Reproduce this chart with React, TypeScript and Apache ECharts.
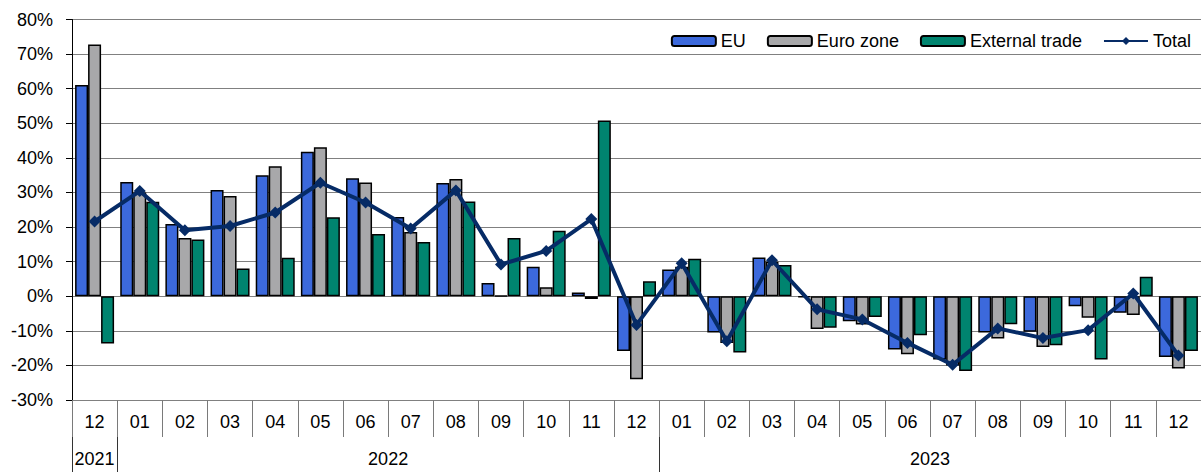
import React, { useEffect, useRef } from "react";
import * as echarts from "echarts";

const months = ["12", "01", "02", "03", "04", "05", "06", "07", "08", "09", "10", "11", "12", "01", "02", "03", "04", "05", "06", "07", "08", "09", "10", "11", "12"];
const yearLabels = ["2021", "2022", "2023"];
const yearLabelPos = [0.5, 7, 19];
const yearSeparators = [0, 1, 13, 25];

const eu = [61.1, 33.0, 20.9, 30.7, 35.0, 41.8, 34.1, 22.9, 32.7, 3.8, 8.5, 1.1, -15.8, 7.7, -10.5, 11.2, -0.3, -7.2, -15.4, -18.3, -10.5, -10.3, -2.9, -4.8, -17.6];
const euroZone = [72.8, 30.0, 16.8, 29.0, 37.6, 43.1, 32.9, 18.6, 33.9, 0.2, 2.6, -0.8, -24.0, 8.5, -13.5, 10.0, -9.5, -8.2, -16.8, -20.0, -12.2, -14.7, -6.2, -5.4, -20.9];
const external = [-13.7, 27.3, 16.4, 8.0, 11.1, 22.8, 18.0, 15.7, 27.4, 16.8, 18.9, 50.8, 4.3, 10.8, -16.3, 9.0, -9.1, -6.0, -11.3, -21.6, -8.1, -14.2, -18.3, 5.6, -15.8];
const total = [21.6, 30.4, 19.1, 20.3, 24.2, 32.8, 27.1, 19.6, 30.6, 9.2, 13.1, 22.3, -8.3, 9.5, -13.0, 10.4, -3.8, -6.7, -13.5, -19.8, -9.3, -12.1, -9.8, 0.8, -17.1];

const FONT = "'Liberation Sans', Arial, sans-serif";

export default function App() {
  const ref = useRef<HTMLDivElement>(null);
  useEffect(() => {
    if (!ref.current) return;
    const chart = echarts.init(ref.current, undefined, { renderer: "svg" });
    const barStyle = (color: string) => ({
      color,
      borderColor: "#000",
      borderWidth: 1.5,
    });
    chart.setOption({
      animation: false,
      textStyle: { fontFamily: FONT, color: "#000" },
      legend: {
        right: 5,
        top: 27,
        itemWidth: 44,
        itemHeight: 10,
        itemGap: 21,
        textStyle: { fontFamily: FONT, fontSize: 18, color: "#000" },
        data: ["EU", "Euro zone", "External trade", "Total"],
      },
      grid: { left: 72, top: 19.5, right: -4, bottom: 72, containLabel: false },
      xAxis: [
        {
          type: "category",
          data: months,
          position: "bottom",
          axisLine: { onZero: false, lineStyle: { color: "#808080", width: 1 } },
          axisTick: { show: true, interval: 0, length: 37, lineStyle: { color: "#7a7a7a" } },
          axisLabel: { interval: 0, fontSize: 18, color: "#000", margin: 13, fontFamily: FONT },
          splitLine: { show: false },
        },
        {
          type: "value",
          min: 0,
          max: 25,
          position: "bottom",
          offset: 37,
          axisLine: { show: false, onZero: false },
          splitLine: { show: false },
          axisTick: {
            show: true,
            length: 35,
            customValues: yearSeparators,
            lineStyle: { color: "#333" },
          },
          axisLabel: {
            show: true,
            customValues: yearLabelPos,
            fontSize: 18,
            color: "#000",
            margin: 13,
            fontFamily: FONT,
            formatter: (v: number) => {
              const i = yearLabelPos.indexOf(v);
              return i >= 0 ? yearLabels[i] : "";
            },
          },
        },
      ],
      yAxis: {
        type: "value",
        min: -30,
        max: 80,
        interval: 10,
        axisLine: { show: true, lineStyle: { color: "#000", width: 1 } },
        axisTick: { show: true, length: 6, lineStyle: { color: "#000" } },
        axisLabel: { formatter: "{value}%", fontSize: 18, color: "#000", margin: 19, fontFamily: FONT },
        splitLine: { show: true, lineStyle: { color: "#808080", width: 1.2 } },
      },
      series: [
        { name: "EU", type: "bar", data: eu, barWidth: 13, barGap: "0%", itemStyle: barStyle("#3C69DC") },
        { name: "Euro zone", type: "bar", data: euroZone, barWidth: 13, barGap: "0%", itemStyle: barStyle("#A8A8AA") },
        { name: "External trade", type: "bar", data: external, barWidth: 13, barGap: "0%", itemStyle: barStyle("#00846F") },
        {
          name: "Total",
          type: "line",
          data: total,
          symbol: "diamond",
          symbolSize: 12,
          z: 5,
          lineStyle: { color: "#062B66", width: 4 },
          itemStyle: { color: "#062B66" },
        },
      ],
    });
    return () => chart.dispose();
  }, []);
  return (
    <div
      ref={ref}
      style={{ position: "fixed", left: 0, top: 0, width: 1201, height: 472, background: "#fff" }}
    />
  );
}
